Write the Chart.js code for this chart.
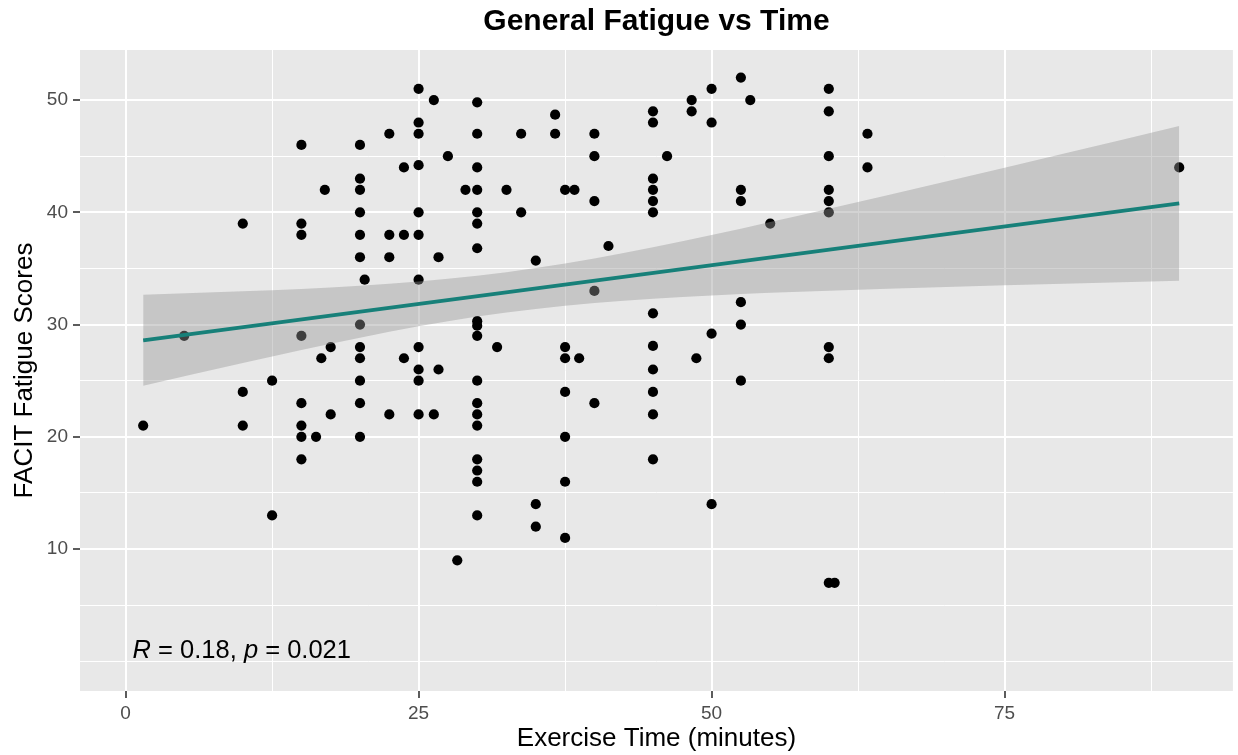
<!DOCTYPE html>
<html>
<head>
<meta charset="utf-8">
<title>General Fatigue vs Time</title>
<script src="https://cdn.jsdelivr.net/npm/chart.js@4.4.1/dist/chart.umd.min.js"></script>
<style>
  html, body { margin: 0; padding: 0; background: #fff; }
  #wrap { width: 1238px; height: 755px; }
</style>
</head>
<body>
<div id="wrap"><canvas id="fatigueChart" width="1238" height="755"></canvas></div>
<script>
// one entry per respondent: exercise time (minutes) and FACIT fatigue score
const exerciseTime = [
  1.5, 5,
  10, 10, 10,
  12.5, 12.5,
  15, 15, 15, 15, 15, 15, 15, 15,
  16.25, 16.7, 17, 17.5, 17.5,
  20, 20, 20, 20, 20, 20, 20, 20, 20, 20, 20, 20,
  20.4,
  22.5, 22.5, 22.5, 22.5,
  23.75, 23.75, 23.75,
  25, 25, 25, 25, 25, 25, 25, 25, 25, 25, 25,
  26.3, 26.3, 26.7, 26.7, 27.5, 28.3, 29,
  30, 30, 30, 30, 30, 30, 30, 30, 30, 30, 30, 30, 30, 30, 30, 30, 30, 30,
  31.7, 32.5, 33.75, 33.75,
  35, 35, 35,
  36.65, 36.65,
  37.5, 37.5, 37.5, 37.5, 37.5, 37.5, 37.5,
  38.3, 38.7,
  40, 40, 40, 40, 40,
  41.2,
  45, 45, 45, 45, 45, 45, 45, 45, 45, 45, 45, 45,
  46.2, 48.3, 48.3, 48.7,
  50, 50, 50, 50,
  52.5, 52.5, 52.5, 52.5, 52.5, 52.5,
  53.3, 55,
  60, 60, 60, 60, 60, 60, 60, 60, 60, 60.5,
  63.3, 63.3,
  89.9
];
const fatigueScore = [
  21, 29,
  39, 24, 21,
  25, 13,
  46, 39, 38, 29, 23, 21, 20, 18,
  20, 27, 42, 28, 22,
  46, 43, 42, 40, 38, 36, 30, 28, 27, 25, 23, 20,
  34,
  47, 38, 36, 22,
  44, 38, 27,
  51, 48, 47, 44.2, 40, 38, 34, 28, 26, 25, 22,
  50, 22, 36, 26, 45, 9, 42,
  49.8, 47, 44, 42, 40, 39, 36.8, 30.3, 29.9, 29, 25, 23, 22, 21, 18, 17, 16, 13,
  28, 42, 47, 40,
  35.7, 14, 12,
  48.7, 47,
  42, 28, 27, 24, 20, 16, 11,
  42, 27,
  47, 45, 41, 33, 23,
  37,
  49, 48, 43, 42, 41, 40, 31, 28.1, 26, 24, 22, 18,
  45, 50, 49, 27,
  51, 48, 29.2, 14,
  52, 42, 41, 32, 30, 25,
  50, 39,
  51, 49, 45, 42, 41, 40, 28, 27, 7, 7,
  47, 44,
  44
];

// linear fit and its 95% band
const fitX = [1.5, 89.9];
const fitY = [28.6, 40.8];
const bandX = [1.5, 10, 20, 30, 40, 50, 60, 70, 80, 89.9];
const bandUpper = [32.65, 32.96, 33.47, 34.35, 35.89, 37.98, 40.32, 42.75, 45.22, 47.7];
const bandLower = [24.55, 26.58, 28.83, 30.71, 31.93, 32.6, 33.02, 33.35, 33.64, 33.9];

// axis breaks (majors are labelled, minors are only grid lines)
const xMajor = [0, 25, 50, 75];
const xMinor = [12.5, 37.5, 62.5, 87.5];
const yMajor = [10, 20, 30, 40, 50];
const yMinor = [0, 5, 15, 25, 35, 45];

const corText = [['R', true], [' = 0.18, ', false], ['p', true], [' = 0.021', false]];
const corX = 0.6;
const corY = 0.3;

const FONT = "'Liberation Sans', Arial, Helvetica, sans-serif";
Chart.defaults.font.family = FONT;

const toPoints = (xs, ys) => xs.map((x, i) => ({ x: x, y: ys[i] }));

const panelBackground = {
  id: 'panelBackground',
  beforeDraw(chart) {
    const { ctx, chartArea: a } = chart;
    ctx.save();
    ctx.fillStyle = '#E8E8E8';
    ctx.fillRect(a.left, a.top, a.right - a.left, a.bottom - a.top);
    ctx.restore();
  }
};

const corLabel = {
  id: 'corLabel',
  afterDatasetsDraw(chart) {
    const { ctx, scales } = chart;
    let x = scales.x.getPixelForValue(corX);
    const y = scales.y.getPixelForValue(corY);
    ctx.save();
    ctx.fillStyle = '#000';
    ctx.textBaseline = 'alphabetic';
    ctx.textAlign = 'left';
    corText.forEach(([txt, italic]) => {
      ctx.font = (italic ? 'italic ' : '') + '25.5px ' + FONT;
      ctx.fillText(txt, x, y);
      x += ctx.measureText(txt).width;
    });
    ctx.restore();
  }
};

const gridFor = (majors) => ({
  color: '#FFFFFF',
  lineWidth: (c) => (c.tick && majors.includes(c.tick.value) ? 2 : 1),
  tickColor: (c) => (c.tick && majors.includes(c.tick.value) ? '#333333' : 'rgba(0,0,0,0)'),
  tickWidth: 1.6,
  tickLength: 7,
  drawTicks: true
});

const ctx = document.getElementById('fatigueChart').getContext('2d');
new Chart(ctx, {
  type: 'scatter',
  data: {
    datasets: [
      {
        label: 'fit',
        data: toPoints(fitX, fitY),
        showLine: true,
        borderColor: '#178079',
        borderWidth: 3.8,
        pointRadius: 0,
        fill: false,
        order: 1
      },
      {
        label: 'band upper',
        data: toPoints(bandX, bandUpper),
        showLine: true,
        borderWidth: 0,
        borderColor: 'rgba(0,0,0,0)',
        backgroundColor: 'rgba(150,150,150,0.42)',
        pointRadius: 0,
        cubicInterpolationMode: 'monotone',
        fill: '+1',
        order: 2
      },
      {
        label: 'band lower',
        data: toPoints(bandX, bandLower),
        showLine: true,
        borderWidth: 0,
        borderColor: 'rgba(0,0,0,0)',
        pointRadius: 0,
        cubicInterpolationMode: 'monotone',
        fill: false,
        order: 2
      },
      {
        label: 'FACIT fatigue',
        data: toPoints(exerciseTime, fatigueScore),
        backgroundColor: '#000000',
        borderWidth: 0,
        pointRadius: 5.1,
        pointHoverRadius: 5.1,
        order: 3
      }
    ]
  },
  options: {
    responsive: false,
    animation: false,
    devicePixelRatio: 1,
    events: [],
    layout: { padding: { left: 0, right: 3, top: 0, bottom: 0 } },
    plugins: {
      legend: { display: false },
      tooltip: { enabled: false },
      title: {
        display: true,
        text: 'General Fatigue vs Time',
        color: '#000',
        fullSize: false,
        font: { size: 30, weight: 'bold' },
        padding: { top: 4, bottom: 10 }
      }
    },
    scales: {
      x: {
        type: 'linear',
        min: -3.89,
        max: 94.48,
        afterBuildTicks: (s) => { s.ticks = xMajor.concat(xMinor).sort((a, b) => a - b).map(v => ({ value: v })); },
        afterFit: (s) => { s.height = 64; },
        grid: gridFor(xMajor),
        border: { display: false },
        ticks: {
          autoSkip: false,
          maxRotation: 0,
          color: '#4D4D4D',
          font: { size: 19 },
          padding: 4,
          callback: (v) => (xMajor.includes(v) ? String(v) : '')
        },
        title: {
          display: true,
          text: 'Exercise Time (minutes)',
          color: '#000',
          font: { size: 26 },
          padding: { top: 0, bottom: 1 }
        }
      },
      y: {
        type: 'linear',
        min: -2.64,
        max: 54.46,
        afterBuildTicks: (s) => { s.ticks = yMajor.concat(yMinor).sort((a, b) => a - b).map(v => ({ value: v })); },
        afterFit: (s) => { s.width = 80; },
        grid: gridFor(yMajor),
        border: { display: false },
        ticks: {
          autoSkip: false,
          color: '#4D4D4D',
          font: { size: 19 },
          padding: 5,
          callback: (v) => (yMajor.includes(v) ? String(v) : '')
        },
        title: {
          display: true,
          text: 'FACIT Fatigue Scores',
          color: '#000',
          font: { size: 26 },
          padding: { top: 9, bottom: 0 }
        }
      }
    }
  },
  plugins: [panelBackground, corLabel]
});
</script>
</body>
</html>
